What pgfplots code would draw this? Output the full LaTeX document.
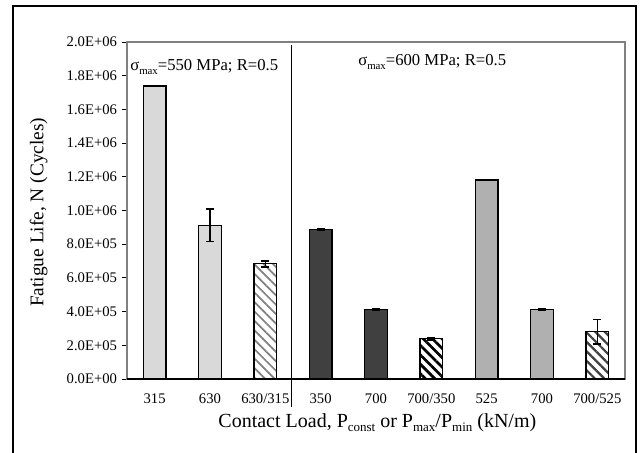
\documentclass[border=0pt]{standalone}
\usepackage{fontspec}
\setmainfont{Liberation Serif}
\usepackage{graphicx}
\usepackage{pgfplots}
\pgfplotsset{compat=1.18}
\usetikzlibrary{patterns.meta}
\definecolor{lightbar}{HTML}{D9D9D9}
\definecolor{darkbar}{HTML}{404040}
\definecolor{midbar}{HTML}{B0B0B0}
\definecolor{axgray}{HTML}{808080}
\newcommand\sub[1]{\raisebox{-0.45ex}{\scalebox{0.65}{#1}}}

\pgfplotstableread{
x y e
0 1739000 3000
1 912000 96000
}\groupAsolid
\pgfplotstableread{
x y e
2 684000 18000
}\groupAhatch
\pgfplotstableread{
x y e
3 888000 3000
4 413000 2000
}\groupBsolid
\pgfplotstableread{
x y e
5 239000 6000
}\groupBhatch
\pgfplotstableread{
x y e
6 1181000 2000
7 413000 2000
}\groupCsolid
\pgfplotstableread{
x y e
8 280000 73000
}\groupChatch

\begin{document}
\begin{tikzpicture}
\path[use as bounding box] (0,0) rectangle (482.25pt,339.75pt);
\draw[line width=1.5pt] (10pt,-5pt) -- (10pt,335.6pt) -- (476.8pt,335.6pt) -- (476.8pt,-5pt);
\begin{axis}[
  at={(95.25pt,55.5pt)}, anchor=south west,
  scale only axis, width=373.5pt, height=252.75pt,
  xmin=-0.5, xmax=8.5, ymin=0, ymax=2000000,
  xtick={0,1,2,3,4,5,6,7,8},
  xticklabels={315,630,630/315,350,700,700/350,525,700,700/525},
  xtick style={draw=none},
  ytick={0,200000,400000,600000,800000,1000000,1200000,1400000,1600000,1800000,2000000},
  yticklabels={0.0E+00,2.0E+05,4.0E+05,6.0E+05,8.0E+05,1.0E+06,1.2E+06,1.4E+06,1.6E+06,1.8E+06,2.0E+06},
  scaled y ticks=false,
  ytick pos=left, xtick pos=bottom,
  tick align=outside,
  major tick length=4pt,
  ytick style={black, line width=0.6pt},
  axis line style={axgray, line width=0.8pt},
  ticklabel style={font=\fontsize{11}{13}\selectfont},
  xticklabel style={yshift=-3.5pt},
  clip=false,
  error bars/error bar style={black, line width=1.2pt},
  error bars/error mark options={black, line width=1.2pt, mark size=3pt, rotate=90},
]
\addplot[ybar, bar width=0.41, fill=lightbar, draw=black, line width=0.8pt,
  error bars/.cd, y dir=both, y explicit]
  table[x=x, y=y, y error=e] {\groupAsolid};
\addplot[ybar, bar width=0.41, draw=black, line width=0.8pt,
  pattern={Lines[angle=-45, distance=5pt, line width=1.3pt]}, pattern color=gray,
  error bars/.cd, y dir=both, y explicit]
  table[x=x, y=y, y error=e] {\groupAhatch};
\addplot[ybar, bar width=0.41, fill=darkbar, draw=black, line width=0.8pt,
  error bars/.cd, y dir=both, y explicit]
  table[x=x, y=y, y error=e] {\groupBsolid};
\addplot[ybar, bar width=0.41, draw=black, line width=0.8pt,
  pattern={Lines[angle=-45, distance=5pt, line width=2pt]}, pattern color=black,
  error bars/.cd, y dir=both, y explicit]
  table[x=x, y=y, y error=e] {\groupBhatch};
\addplot[ybar, bar width=0.41, fill=midbar, draw=black, line width=0.8pt,
  error bars/.cd, y dir=both, y explicit]
  table[x=x, y=y, y error=e] {\groupCsolid};
\addplot[ybar, bar width=0.41, draw=black, line width=0.8pt,
  pattern={Lines[angle=-45, distance=5pt, line width=1.7pt]}, pattern color=darkbar,
  error bars/.cd, y dir=both, y explicit]
  table[x=x, y=y, y error=e] {\groupChatch};
\draw[black, line width=1pt] (rel axis cs:0,0) -- (rel axis cs:1,0);
\end{axis}
\draw[black, line width=0.7pt] (218.25pt,306pt) -- (218.25pt,34.5pt);
\node[anchor=west, inner sep=0pt, font=\fontsize{12.5}{15}\selectfont] at (97.5pt,289.5pt) {σ\sub{max}=550 MPa; R=0.5};
\node[anchor=west, inner sep=0pt, font=\fontsize{12.5}{15}\selectfont] at (268.5pt,293.25pt) {σ\sub{max}=600 MPa; R=0.5};
\node[rotate=90, font=\fontsize{14.5}{17}\selectfont] at (29pt,180.5pt) {Fatigue Life, N (Cycles)};
\node[font=\fontsize{15}{18}\selectfont] at (283pt,22.5pt) {Contact Load, P\sub{const} or P\sub{max}/P\sub{min} (kN/m)};
\end{tikzpicture}
\end{document}
